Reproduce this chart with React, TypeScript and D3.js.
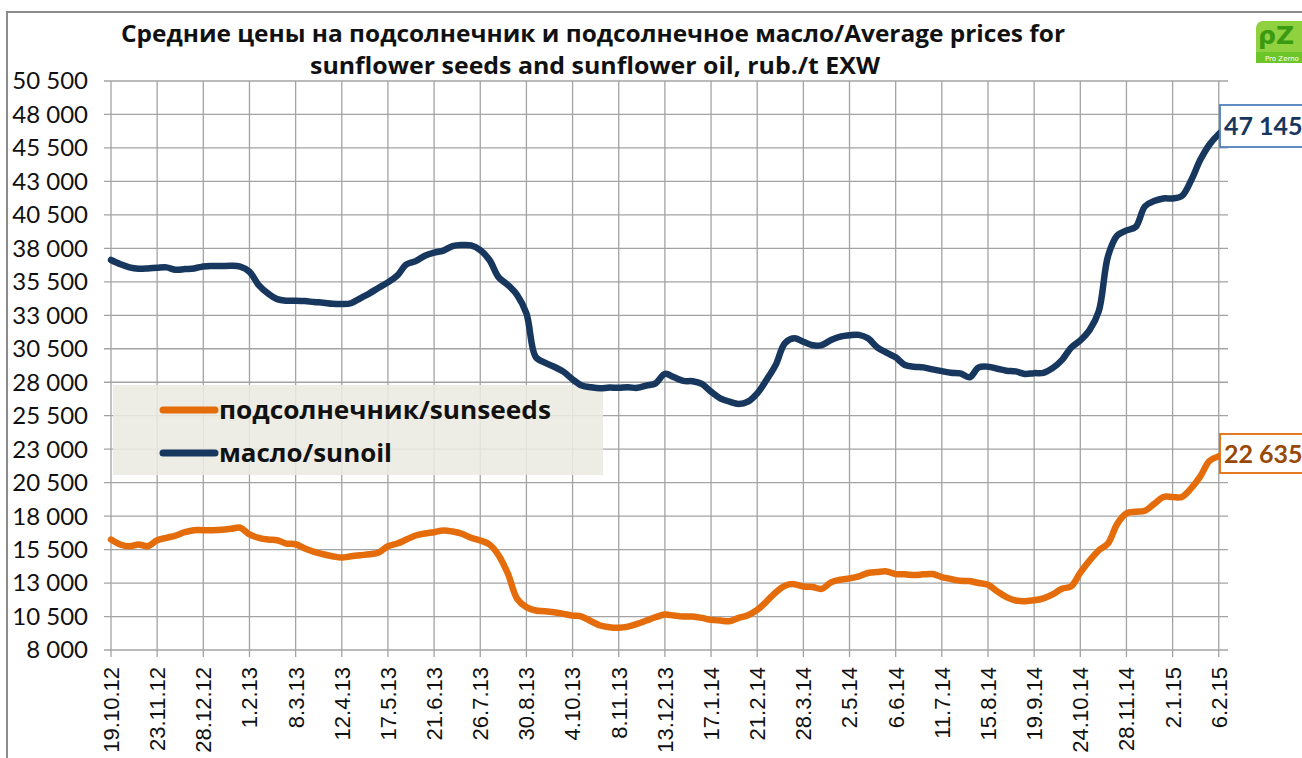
import React, { useEffect, useRef } from 'react';
import * as d3 from 'd3';

const width = 1302;
const height = 758;
const margin = { top: 81, left: 111, bottom: 108, right: 74 };

// weekly prices, 19.10.12 .. 13.2.15
const sunseeds = [
  16250, 15880, 15750, 15880, 15750, 16200, 16380, 16550, 16800, 16950,
  16950, 16950, 16980, 17050, 17130, 16630, 16380, 16250, 16200, 15950,
  15900, 15580, 15330, 15150, 15000, 14900, 15000, 15080, 15150, 15280,
  15750, 15950, 16250, 16550, 16700, 16800, 16930, 16850, 16680, 16380,
  16180, 15880, 15060, 13690, 11820, 11200, 10950, 10900, 10820, 10700,
  10570, 10500, 10150, 9830, 9700, 9660, 9750, 9950, 10200, 10450,
  10650, 10570, 10500, 10500, 10400, 10250, 10200, 10150, 10400, 10600,
  10990, 11620, 12300, 12800, 12920, 12740, 12700, 12570, 13050, 13250,
  13350, 13500, 13750, 13820, 13870, 13670, 13650, 13600, 13650, 13670,
  13450, 13300, 13170, 13150, 13000, 12870, 12380, 11950, 11700, 11650,
  11710, 11860, 12150, 12580, 12750, 13780, 14670, 15440, 15960, 17420,
  18200, 18320, 18400, 18910, 19430, 19430, 19430, 20070, 20970, 22130,
  22460, 22635,
];

const sunoil = [
  37130, 36820, 36580, 36480, 36500, 36550, 36580, 36400, 36450, 36500,
  36650, 36680, 36680, 36700, 36630, 36250, 35260, 34640, 34210, 34090,
  34090, 34060, 33990, 33940, 33860, 33840, 33900, 34270, 34640, 35060,
  35460, 35960, 36800, 37050, 37450, 37680, 37830, 38170, 38250, 38220,
  37870, 37130, 35830, 35260, 34510, 33140, 29900, 29460, 29160, 28790,
  28220, 27750, 27620, 27550, 27600, 27580, 27620, 27580, 27750, 27920,
  28620, 28370, 28100, 28070, 27870, 27300, 26800, 26550, 26380, 26550,
  27170, 28170, 29290, 30910, 31280, 31030, 30760, 30780, 31160, 31410,
  31510, 31540, 31280, 30610, 30210, 29860, 29290, 29160, 29110, 28960,
  28830, 28710, 28660, 28370, 29110, 29160, 29010, 28860, 28810, 28620,
  28680, 28700, 29050, 29650, 30580, 31120, 31890, 33300, 37410, 38960,
  39340, 39600, 41140, 41530, 41730, 41730, 41910, 43070, 44610, 45760,
  46540, 47145,
];

const dateLabels = [
  '19.10.12', '23.11.12', '28.12.12', '1.2.13', '8.3.13', '12.4.13', '17.5.13',
  '21.6.13', '26.7.13', '30.8.13', '4.10.13', '8.11.13', '13.12.13', '17.1.14',
  '21.2.14', '28.3.14', '2.5.14', '6.6.14', '11.7.14', '15.8.14', '19.9.14',
  '24.10.14', '28.11.14', '2.1.15', '6.2.15',
];

const yTicks = [8000, 10500, 13000, 15500, 18000, 20500, 23000, 25500, 28000,
  30500, 33000, 35500, 38000, 40500, 43000, 45500, 48000, 50500];

const seriesNames = ['подсолнечник/sunseeds', 'масло/sunoil'];
const colors = ['#E46C0A', '#17375E'];

const fmt = (v: number) => d3.format(',')(v).replace(/,/g, ' ');

const Chart = () => {
  const ref = useRef<SVGSVGElement>(null);

  useEffect(() => {
    const svg = d3.select(ref.current);
    svg.selectAll('*').remove();

    const x = d3.scaleLinear()
      .domain([0, sunoil.length - 1])
      .range([margin.left, width - margin.right]);
    const y = d3.scaleLinear()
      .domain([8000, 50500])
      .range([height - margin.bottom, margin.top]);

    svg.append('rect').attr('width', width).attr('height', height).attr('fill', 'white');

    // outer frame
    svg.append('rect')
      .attr('x', 7).attr('y', 12)
      .attr('width', width + 20).attr('height', height + 20)
      .attr('fill', 'none').attr('stroke', '#8c8c8c').attr('stroke-width', 2);

    // grid
    const grid = svg.append('g').attr('stroke', '#a3a3a3').attr('stroke-width', 1.3);
    grid.selectAll('line.h').data(yTicks).join('line')
      .attr('x1', margin.left - 7).attr('x2', width - margin.right)
      .attr('y1', d => y(d)).attr('y2', d => y(d));
    grid.selectAll('line.v').data(dateLabels).enter().append('line')
      .attr('x1', (d, i) => x(i * 5)).attr('x2', (d, i) => x(i * 5))
      .attr('y1', y(50500)).attr('y2', y(8000) + 7);

    // y labels
    svg.append('g').selectAll('text').data(yTicks).join('text')
      .attr('x', 88).attr('y', d => y(d))
      .attr('dy', '0.35em')
      .attr('text-anchor', 'end')
      .attr('font-family', 'Lato, "Open Sans", sans-serif')
      .attr('font-size', 24)
      .attr('fill', '#111')
      .text(d => fmt(d));

    // x labels
    svg.append('g').selectAll('text').data(dateLabels).join('text')
      .attr('transform', (d, i) => `translate(${x(i * 5)},667) rotate(-90)`)
      .attr('dy', '0.36em')
      .attr('text-anchor', 'end')
      .attr('font-family', '"Liberation Sans", Arial, sans-serif')
      .attr('font-size', 22)
      .attr('fill', '#111')
      .text(d => d);

    // legend box (under the lines)
    svg.append('rect')
      .attr('x', 113).attr('y', 385).attr('width', 490).attr('height', 90)
      .attr('fill', '#ecebe1').attr('opacity', 0.88);

    const line = d3.line<number>()
      .x((d, i) => x(i))
      .y(d => y(d))
      .curve(d3.curveCatmullRom.alpha(0.5));

    [sunseeds, sunoil].forEach((s, k) => {
      svg.append('path')
        .datum(s)
        .attr('d', line)
        .attr('fill', 'none')
        .attr('stroke', colors[k])
        .attr('stroke-width', 6.5)
        .attr('stroke-linejoin', 'round')
        .attr('stroke-linecap', 'round');
    });

    // legend entries
    const legendWidths = [332, 173];
    const leg = svg.append('g');
    seriesNames.forEach((name, k) => {
      const ly = 410 + k * 43;
      leg.append('line')
        .attr('x1', 163).attr('x2', 215).attr('y1', ly).attr('y2', ly)
        .attr('stroke', colors[k]).attr('stroke-width', 7).attr('stroke-linecap', 'round');
      leg.append('text')
        .attr('x', 219).attr('y', ly + 9)
        .attr('font-family', '"Open Sans", sans-serif')
        .attr('font-weight', 'bold')
        .attr('font-size', 25)
        .attr('fill', '#111')
        .attr('textLength', legendWidths[k]).attr('lengthAdjust', 'spacingAndGlyphs')
        .text(name);
    });

    // end value labels
    const last = sunoil.length - 1;
    const endLabels = [
      { v: sunoil[last], stroke: '#4F81BD', fill: '#17375E', y0: 105, h: 42 },
      { v: sunseeds[last], stroke: '#E46C0A', fill: '#984807', y0: 434, h: 39 },
    ];
    endLabels.forEach(l => {
      svg.append('rect')
        .attr('x', x(last) - 8).attr('y', l.y0).attr('width', 100).attr('height', l.h)
        .attr('fill', 'white').attr('stroke', l.stroke).attr('stroke-width', 1.8);
      svg.append('text')
        .attr('x', x(last) - 4).attr('y', l.y0 + l.h / 2)
        .attr('dy', '0.36em')
        .attr('font-family', 'Lato, "Open Sans", sans-serif')
        .attr('font-weight', 'bold')
        .attr('font-size', 25)
        .attr('fill', l.fill)
        .text(fmt(l.v));
    });

    // title
    const title = svg.append('g')
      .attr('font-family', '"Open Sans", sans-serif')
      .attr('font-weight', 'bold')
      .attr('font-size', 24)
      .attr('fill', '#111')
      .attr('text-anchor', 'middle');
    title.append('text').attr('x', 593).attr('y', 42)
      .attr('textLength', 944).attr('lengthAdjust', 'spacingAndGlyphs')
      .text('Средние цены на подсолнечник и подсолнечное масло/Average prices for');
    title.append('text').attr('x', 595).attr('y', 74)
      .attr('textLength', 570).attr('lengthAdjust', 'spacingAndGlyphs')
      .text('sunflower seeds and sunflower oil, rub./t EXW');

    // logo
    const logo = svg.append('g');
    logo.append('rect').attr('x', 1256).attr('y', 21).attr('width', 52).attr('height', 42)
      .attr('rx', 7).attr('fill', '#8fd13f');
    logo.append('rect').attr('x', 1256).attr('y', 52).attr('width', 52).attr('height', 11)
      .attr('fill', '#6cc62a');
    logo.append('text').attr('x', 1258).attr('y', 44)
      .attr('font-family', '"DejaVu Sans", sans-serif').attr('font-weight', 'bold')
      .attr('font-size', 25).attr('fill', '#3a9a12').text('ρZ');
    logo.append('text').attr('x', 1265).attr('y', 61)
      .attr('font-family', '"DejaVu Sans", sans-serif')
      .attr('font-size', 7).attr('fill', 'white').text('Pro Zerno');
  }, []);

  return <svg ref={ref} width={width} height={height} style={{ position: 'absolute', left: 0, top: 0 }} />;
};

export default function App() {
  return <Chart />;
}
